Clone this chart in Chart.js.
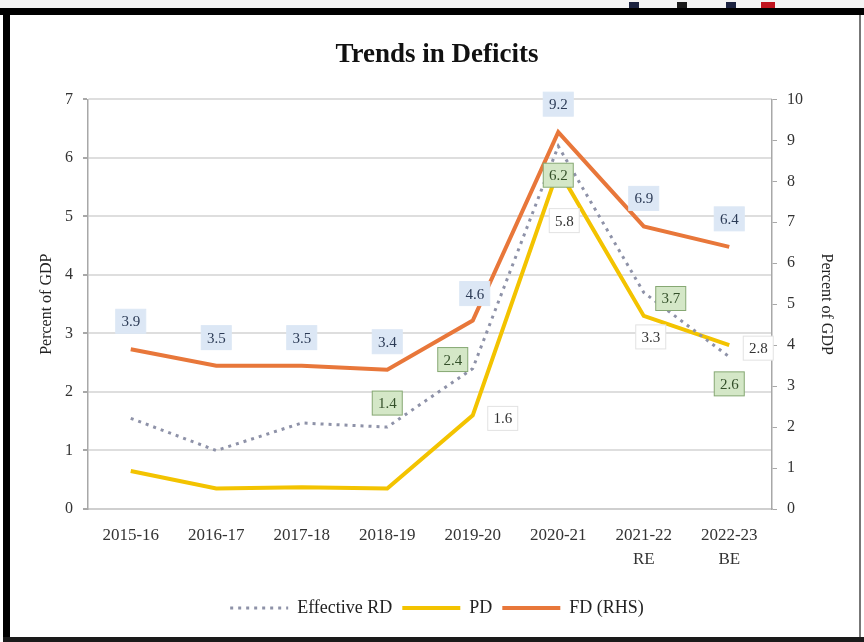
<!DOCTYPE html>
<html lang="en">
<head>
<meta charset="UTF-8">
<title>Trends in Deficits</title>
<script src="https://cdn.jsdelivr.net/npm/chart.js"></script>
<style>
    body, html {
        margin: 0;
        padding: 0;
        width: 864px;
        height: 642px;
        overflow: hidden;
        background: #f4f4f4;
    }
    .frame {
        position: relative;
        width: 864px;
        height: 642px;
        background: #fff;
    }
    #deficitChart {
        position: absolute;
        left: 0;
        top: 0;
    }
    /* picture frame edges */
    .edge { position: absolute; background: #000; }
    .edge.top { left: 0; top: 8px; width: 864px; height: 7px; }
    .edge.left { left: 3px; top: 8px; width: 7px; height: 634px; }
    .edge.bottom { left: 3px; top: 637px; width: 861px; height: 5px; background: #1a1a1a; }
    .edge.right { left: 859px; top: 15px; width: 2px; height: 622px; background: #777; }
    .strip { position: absolute; left: 0; top: 0; width: 864px; height: 8px; background: #f4f4f4; }
    .mark { position: absolute; top: 2px; height: 6px; width: 10px; }
</style>
</head>
<body>
<div class="frame">
    <canvas id="deficitChart" width="864" height="642"></canvas>
    <div class="strip"></div>
    <div class="mark" style="left:629px;background:#1c2340"></div>
    <div class="mark" style="left:677px;background:#1a1a1a"></div>
    <div class="mark" style="left:726px;background:#1c2340"></div>
    <div class="mark" style="left:761px;width:14px;background:#c0141e"></div>
    <div class="edge top"></div>
    <div class="edge left"></div>
    <div class="edge bottom"></div>
    <div class="edge right"></div>
</div>

<script>
    // categories and series (percent of GDP)
    const years = ['2015-16', '2016-17', '2017-18', '2018-19', '2019-20', '2020-21', ['2021-22', 'RE'], ['2022-23', 'BE']];
    const effectiveRD = [1.55, 1.0, 1.47, 1.4, 2.4, 6.2, 3.7, 2.6];
    const primaryDeficit = [0.65, 0.35, 0.37, 0.35, 1.6, 5.8, 3.3, 2.8];
    const fiscalDeficit = [3.9, 3.5, 3.5, 3.4, 4.6, 9.2, 6.9, 6.4];
    const leftTicks = [0, 1, 2, 3, 4, 5, 6, 7];
    const rightTicks = [0, 1, 2, 3, 4, 5, 6, 7, 8, 9, 10];

    const serif = "'Liberation Serif', 'Times New Roman', serif";

    // where each value tag sits relative to its point, [dx, dy]; null = no tag
    const tagOffsets = [
        [null, null, null, [0, -24], [-20, -9], [0, 29], [27, 6], [0, 27]],
        [null, null, null, null, [30, 3], [6, 51], [7, 21], [29, 3]],
        [[0, -28], [0, -28], [0, -28], [0, -28], [2, -27], [0, -28], [0, -28], [0, -28]]
    ];
    const tagStyles = [
        { fill: '#d4e7c7', stroke: '#86a873', text: '#34502a' },
        { fill: '#ffffff', stroke: '#e2e2e2', text: '#333333' },
        { fill: '#dce7f5', stroke: '#dce7f5', text: '#2c3b56' }
    ];

    const valueTags = {
        id: 'valueTags',
        afterDatasetsDraw(chart) {
            const ctx = chart.ctx;
            ctx.save();
            ctx.font = '15px ' + serif;
            ctx.textAlign = 'center';
            ctx.textBaseline = 'middle';
            chart.data.datasets.forEach((ds, d) => {
                const meta = chart.getDatasetMeta(d);
                const st = tagStyles[d];
                meta.data.forEach((pt, i) => {
                    const off = tagOffsets[d][i];
                    if (!off) return;
                    const cx = pt.x + off[0];
                    const cy = pt.y + off[1];
                    ctx.fillStyle = st.fill;
                    ctx.fillRect(cx - 15, cy - 12, 30, 24);
                    ctx.strokeStyle = st.stroke;
                    ctx.lineWidth = 1;
                    ctx.strokeRect(cx - 15, cy - 12, 30, 24);
                    ctx.fillStyle = st.text;
                    ctx.fillText(ds.data[i].toFixed(1), cx, cy + 1);
                });
            });
            ctx.restore();
        }
    };

    const ctx = document.getElementById('deficitChart').getContext('2d');
    const deficitChart = new Chart(ctx, {
        type: 'line',
        data: {
            labels: years,
            datasets: [{
                label: 'Effective RD',
                data: effectiveRD,
                yAxisID: 'y',
                borderColor: '#8e92a8',
                borderWidth: 3,
                borderDash: [3, 5],
                pointRadius: 0,
                tension: 0
            }, {
                label: 'PD',
                data: primaryDeficit,
                yAxisID: 'y',
                borderColor: '#f3c300',
                borderWidth: 4,
                pointRadius: 0,
                tension: 0
            }, {
                label: 'FD (RHS)',
                data: fiscalDeficit,
                yAxisID: 'y1',
                borderColor: '#e8773a',
                borderWidth: 4,
                pointRadius: 0,
                tension: 0
            }]
        },
        options: {
            responsive: false,
            animation: false,
            layout: {
                padding: { left: 10, right: 0, top: 15, bottom: 15 }
            },
            scales: {
                x: {
                    offset: true,
                    grid: { display: false },
                    border: { color: '#cfcfcf', width: 2 },
                    afterFit(scale) { scale.height = 80; },
                    ticks: {
                        maxRotation: 0,
                        autoSkip: false,
                        padding: 6,
                        color: '#333',
                        font: { family: serif, size: 17, lineHeight: 1.45 }
                    }
                },
                y: {
                    position: 'left',
                    min: 0,
                    max: 7,
                    afterFit(scale) { scale.width = 78; },
                    afterBuildTicks(scale) { scale.ticks = leftTicks.map(v => ({ value: v })); },
                    grid: { color: '#dedede', lineWidth: 2, tickLength: 5, tickColor: '#a8a8a8' },
                    border: { color: '#a8a8a8', width: 1.5 },
                    ticks: {
                        padding: 10,
                        color: '#333',
                        font: { family: serif, size: 16 }
                    },
                    title: {
                        display: true,
                        text: 'Percent of GDP',
                        color: '#222',
                        padding: { top: 27, bottom: 0 },
                        font: { family: serif, size: 16 }
                    }
                },
                y1: {
                    position: 'right',
                    min: 0,
                    max: 10,
                    afterFit(scale) { scale.width = 92; },
                    afterBuildTicks(scale) { scale.ticks = rightTicks.map(v => ({ value: v })); },
                    grid: { drawOnChartArea: false, tickLength: 5, color: '#a8a8a8' },
                    border: { color: '#a8a8a8', width: 1.5 },
                    ticks: {
                        padding: 10,
                        color: '#333',
                        font: { family: serif, size: 16 }
                    },
                    title: {
                        display: true,
                        text: 'Percent of GDP',
                        color: '#222',
                        padding: { top: 28, bottom: 0 },
                        font: { family: serif, size: 16 }
                    }
                }
            },
            plugins: {
                title: {
                    display: true,
                    text: 'Trends in Deficits',
                    color: '#111',
                    padding: { top: 24, bottom: 28 },
                    font: { family: serif, size: 27, weight: 'bold', lineHeight: 1.2 }
                },
                legend: {
                    position: 'bottom',
                    labels: {
                        usePointStyle: true,
                        pointStyle: 'line',
                        pointStyleWidth: 58,
                        padding: 10,
                        color: '#222',
                        font: { family: serif, size: 18 },
                        // legend samples follow each dataset's own line style
                        generateLabels(chart) {
                            const items = Chart.defaults.plugins.legend.labels.generateLabels(chart);
                            items.forEach((item, i) => {
                                const ds = chart.data.datasets[i];
                                item.pointStyle = 'line';
                                item.strokeStyle = ds.borderColor;
                                item.lineWidth = ds.borderWidth;
                                item.lineDash = ds.borderDash || [];
                            });
                            return items;
                        }
                    }
                },
                tooltip: { enabled: false }
            }
        },
        plugins: [valueTags]
    });
</script>
</body>
</html>
